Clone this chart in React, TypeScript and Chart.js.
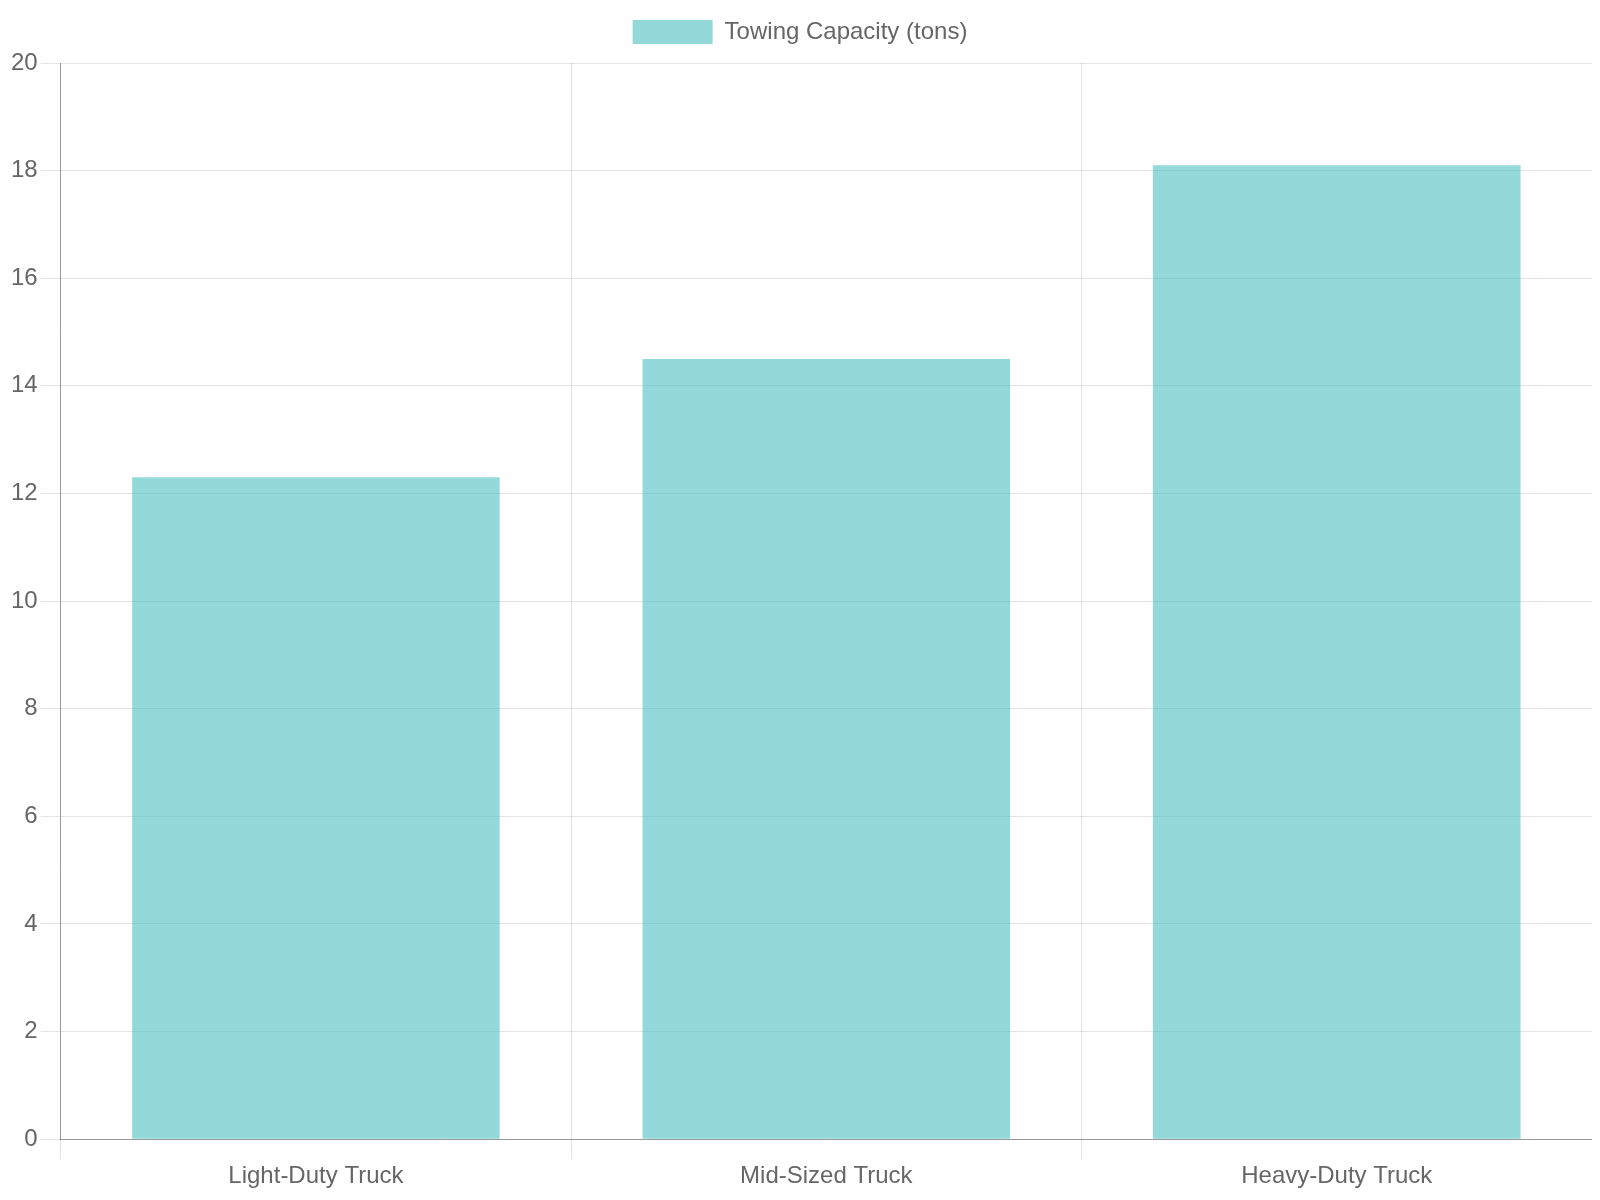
import { useEffect, useRef } from 'react';
import Chart from 'chart.js/auto';

const categories = ['Light-Duty Truck', 'Mid-Sized Truck', 'Heavy-Duty Truck'];
const towingCapacity = [12.3, 14.5, 18.1];
const seriesLabel = 'Towing Capacity (tons)';

// push the plot area a little further below the legend
const legendMargin = {
    id: 'legendMargin',
    beforeInit: (chart: any) => {
        const originalFit = chart.legend.fit;
        chart.legend.fit = function fit() {
            originalFit.bind(chart.legend)();
            this.height += 9;
        };
    }
};

const App: React.FC = () => {
    const chartRef = useRef<HTMLCanvasElement>(null);

    useEffect(() => {
        if (!chartRef.current) return;
        const ctx = chartRef.current.getContext('2d');
        if (!ctx) return;

        Chart.defaults.font.family = '"Liberation Sans", Arial, sans-serif';
        Chart.defaults.font.size = 24;
        Chart.defaults.color = '#666';

        const chart = new Chart(ctx, {
            type: 'bar',
            data: {
                labels: categories,
                datasets: [
                    {
                        label: seriesLabel,
                        data: towingCapacity,
                        backgroundColor: 'rgba(75, 192, 192, 0.6)',
                        borderColor: 'rgba(75, 192, 192, 0.6)',
                        borderWidth: 0
                    }
                ]
            },
            options: {
                animation: false,
                responsive: true,
                aspectRatio: 4 / 3,
                layout: {
                    padding: { bottom: 2 }
                },
                scales: {
                    x: {
                        grid: {
                            color: 'rgba(0,0,0,0.11)',
                            tickLength: 20
                        },
                        border: { color: 'rgba(0,0,0,0.33)' }
                    },
                    y: {
                        beginAtZero: true,
                        max: 20,
                        ticks: { stepSize: 2 },
                        grid: {
                            color: 'rgba(0,0,0,0.11)',
                            tickLength: 20
                        },
                        border: { color: 'rgba(0,0,0,0.33)' }
                    }
                },
                plugins: {
                    legend: {
                        labels: {
                            boxWidth: 80,
                            padding: 12
                        }
                    },
                    tooltip: { enabled: false }
                }
            },
            plugins: [legendMargin]
        });

        return () => {
            chart.destroy();
        };
    }, []);

    return (
        <div>
            <canvas ref={chartRef}></canvas>
        </div>
    );
};

export default App;
